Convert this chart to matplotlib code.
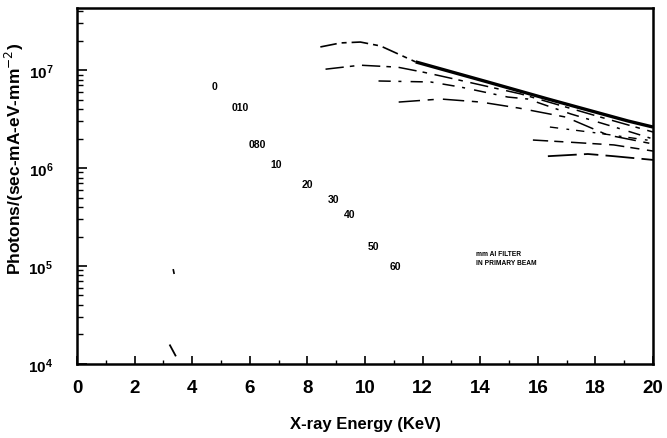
import matplotlib
matplotlib.use("Agg")
import matplotlib.pyplot as plt
import numpy as np

# ---- data ----
# filter-thickness labels (mm Al) placed along the diagonal
lab_text = ["0", "010", "080", "10", "20", "30", "40", "50", "60"]
lab_x = [4.77, 5.67, 6.26, 6.92, 8.0, 8.9, 9.46, 10.3, 11.06]
lab_y = [6.9e6, 4.2e6, 1.76e6, 1.1e6, 6.9e5, 4.8e5, 3.4e5, 1.6e5, 1.0e5]

# spectra curves (energy keV, photons)
c1_x = [8.45, 9.15, 9.84, 10.54, 11.76, 14.26, 16.35, 19.13, 20.0]
c1_y = [1.72e7, 1.89e7, 1.93e7, 1.76e7, 1.21e7, 7.55e6, 5.06e6, 3.02e6, 2.62e6]
c2_x = [8.63, 9.84, 11.13, 12.03, 12.63, 15.41, 18.19, 20.0]
c2_y = [1.02e7, 1.12e7, 1.07e7, 9.5e6, 8.7e6, 5.7e6, 3.3e6, 2.33e6]
c3_x = [10.47, 12.28, 13.32, 14.96, 15.65, 17.15, 18.89, 20.0]
c3_y = [7.73e6, 7.55e6, 6.7e6, 5.3e6, 5.06e6, 3.56e6, 2.5e6, 1.98e6]
c4_x = [11.17, 12.63, 14.02, 15.34, 16.97, 18.43, 20.0]
c4_y = [4.71e6, 5.06e6, 4.71e6, 4.09e6, 3.31e6, 2.17e6, 1.76e6]
c5_x = [16.42, 18.09, 20.0]
c5_y = [2.62e6, 2.27e6, 1.89e6]
c6_x = [15.83, 17.04, 18.64, 20.0]
c6_y = [1.93e6, 1.84e6, 1.72e6, 1.49e6]
c7_x = [16.35, 17.74, 18.64, 20.0]
c7_y = [1.32e6, 1.39e6, 1.32e6, 1.21e6]

# stray marks on the scan
m1_x = [3.34, 3.41]
m1_y = [9.3e4, 7.4e4]
m2_x = [3.23, 3.42]
m2_y = [1.55e4, 1.22e4]

xticks = [0, 2, 4, 6, 8, 10, 12, 14, 16, 18, 20]

fig = plt.figure(figsize=(6.67, 4.39), dpi=100)
ax = fig.add_axes([0.1154, 0.1686, 0.8636, 0.811])
ax.set_yscale("log")
ax.set_xlim(0, 20)
ax.set_ylim(1e4, 4.3e7)

k = "black"
# curve 1: dashed rise then solid thick line
x1 = np.array(c1_x); y1 = np.array(c1_y)
ax.plot(x1[:5], y1[:5], color=k, lw=1.2, dashes=(10, 3, 3, 3))
ax.plot(x1[4:], y1[4:], color=k, lw=2.4, solid_capstyle="butt")
ax.plot(c2_x, c2_y, color=k, lw=1.1, dashes=(12, 4, 3, 5))
ax.plot(c3_x, c3_y, color=k, lw=1.1, dashes=(8, 5, 2, 6))
ax.plot(c4_x, c4_y, color=k, lw=1.1, dashes=(14, 5, 4, 6))
ax.plot(c5_x, c5_y, color=k, lw=1.0, dashes=(6, 6, 2, 5))
ax.plot(c6_x, c6_y, color=k, lw=1.1, dashes=(10, 4, 6, 5))
ax.plot(c7_x, c7_y, color=k, lw=1.3, dashes=(16, 4, 8, 4))
ax.plot(m1_x, m1_y, color=k, lw=1.2, dashes=(3, 3))
ax.plot(m2_x, m2_y, color=k, lw=1.3)

for t, x, y in zip(lab_text, lab_x, lab_y):
    ax.text(x, y, t, fontsize=7.5, fontweight="bold", ha="center", va="center",
            family="Liberation Sans")

ax.text(13.85, 1.35e5, "mm Al FILTER", fontsize=4.8, fontweight="bold",
        family="Liberation Sans", ha="left", va="center")
ax.text(13.85, 1.08e5, "IN PRIMARY BEAM", fontsize=4.8, fontweight="bold",
        family="Liberation Sans", ha="left", va="center")

for s in ax.spines.values():
    s.set_linewidth(1.8)

ax.set_xticks(xticks)
ax.set_xticklabels([str(v) for v in xticks])
ax.set_xticks(np.arange(1, 20, 2), minor=True)
ax.tick_params(axis="x", which="major", direction="in", length=6, width=1.2,
               labelsize=13.5, pad=11, top=False)
ax.tick_params(axis="x", which="minor", direction="in", length=3, width=1.0, top=False)
ax.tick_params(axis="y", which="major", direction="in", length=7, width=1.2,
               labelsize=11, pad=26, right=False)
ax.tick_params(axis="y", which="minor", direction="in", length=4, width=1.0, right=False)
for lbl in ax.get_xticklabels() + ax.get_yticklabels():
    lbl.set_family("Liberation Sans")
    lbl.set_fontweight("bold")
for lbl in ax.get_yticklabels():
    lbl.set_horizontalalignment("center")

ax.set_xlabel("X-ray Energy (KeV)", fontsize=12, family="Liberation Sans",
              fontweight="bold", labelpad=14)
ax.set_ylabel(r"Photons/(sec-mA-eV-mm$^{-2}$)", fontsize=12.5, family="Liberation Sans",
              fontweight="bold")
ax.yaxis.set_label_coords(-0.088, 0.58)

fig.savefig("out.png", dpi=100)
